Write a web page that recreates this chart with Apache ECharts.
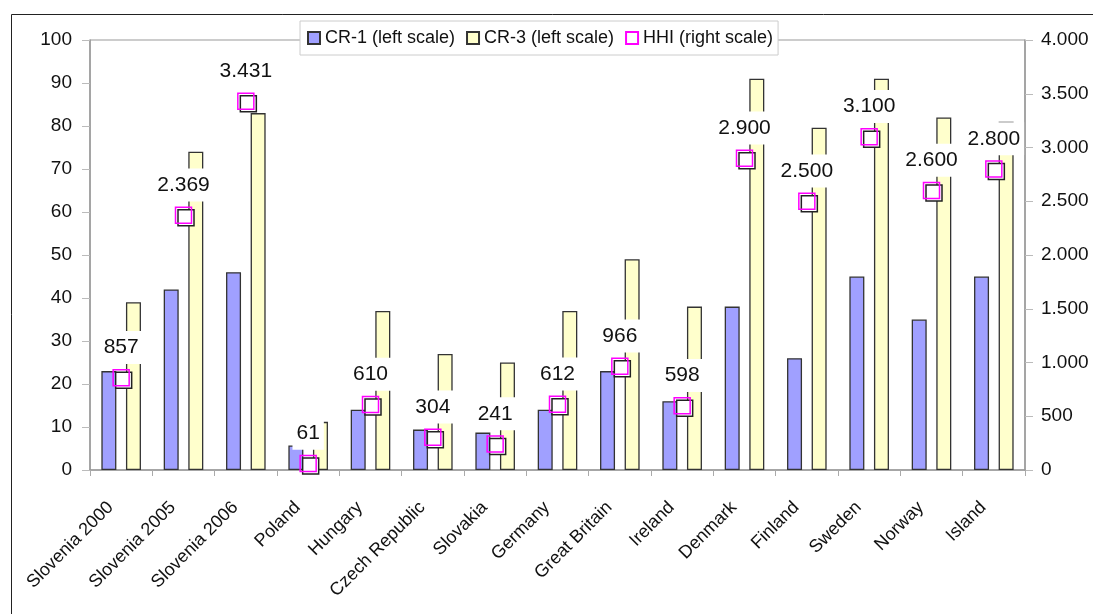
<!DOCTYPE html>
<html>
<head>
<meta charset="utf-8">
<script src="https://cdn.jsdelivr.net/npm/echarts@6/dist/echarts.min.js"></script>
<style>
html,body{margin:0;padding:0;background:#fff;}
#chart{width:1093px;height:614px;}
</style>
</head>
<body>
<div id="chart"></div>
<script>
const categories = ['Slovenia 2000','Slovenia 2005','Slovenia 2006','Poland','Hungary','Czech Republic','Slovakia','Germany','Great Britain','Ireland','Denmark','Finland','Sweden','Norway','Island'];
const cr1 = [23, 42, 46, 5.7, 14, 9.4, 8.7, 14, 23, 16, 38, 26, 45, 35, 45];
const cr3 = [39, 74, 83, 11.2, 37, 27, 25, 37, 49, 38, 91, 79.6, 91, 82, 81];
const hhi = [857, 2369, 3431, 61, 610, 304, 241, 612, 966, 598, 2900, 2500, 3100, 2600, 2800];
const leftTicks = {min: 0, max: 100, interval: 10};
const rightTicks = {min: 0, max: 4000, interval: 500};

function fmtThousands(v) {
  return String(Math.round(v)).replace(/\B(?=(\d{3})+(?!\d))/g, '.');
}

const FONT = "'Liberation Sans', Arial, sans-serif";
const chart = echarts.init(document.getElementById('chart'));
chart.setOption({
  animation: false,
  backgroundColor: '#fff',
  textStyle: {fontFamily: FONT},
  graphic: [{
    type: 'rect', silent: true, z: -10,
    shape: {x: 11.5, y: 14.5, width: 1200, height: 800},
    style: {fill: 'none', stroke: '#222', lineWidth: 1}
  }],
  legend: {
    left: 300, top: 21,
    padding: [8, 5, 8, 7],
    itemWidth: 12, itemHeight: 12, itemGap: 11,
    backgroundColor: '#fff', borderColor: '#ccc', borderWidth: 1,
    textStyle: {fontSize: 18, color: '#111', fontFamily: FONT},
    data: [
      {name: 'CR-1 (left scale)', icon: 'rect'},
      {name: 'CR-3 (left scale)', icon: 'rect'},
      {name: 'HHI (right scale)', icon: 'rect'}
    ]
  },
  grid: {left: 90, right: 68, top: 40, bottom: 144, show: true, borderColor: '#999', borderWidth: 1},
  xAxis: {
    type: 'category', data: categories, boundaryGap: true,
    axisLine: {lineStyle: {color: '#999', width: 1.5}},
    axisTick: {show: true, length: 6, lineStyle: {color: '#aaa'}},
    axisLabel: {rotate: 45, margin: 24, padding: [0, 15, 0, 0], fontSize: 18, color: '#111', fontFamily: FONT, interval: 0}
  },
  yAxis: [{
    type: 'value', min: leftTicks.min, max: leftTicks.max, interval: leftTicks.interval,
    axisLine: {show: true, lineStyle: {color: '#999', width: 1.5}},
    axisTick: {show: true, length: 8, lineStyle: {color: '#bbb'}},
    splitLine: {show: false},
    axisLabel: {margin: 18, fontSize: 19, color: '#111', fontFamily: FONT}
  }, {
    type: 'value', position: 'right', min: rightTicks.min, max: rightTicks.max, interval: rightTicks.interval,
    axisLine: {show: true, lineStyle: {color: '#999', width: 1.5}},
    axisTick: {show: true, length: 8, lineStyle: {color: '#bbb'}},
    splitLine: {show: false},
    axisLabel: {margin: 16, fontSize: 19, color: '#111', fontFamily: FONT, formatter: fmtThousands}
  }],
  series: [{
    name: 'CR-1 (left scale)', type: 'bar', data: cr1, barWidth: 15, barGap: '64%',
    itemStyle: {color: '#a0a0ff', borderColor: '#333', borderWidth: 1.3}
  }, {
    name: 'CR-3 (left scale)', type: 'bar', data: cr3, barWidth: 15, barGap: '64%',
    itemStyle: {color: '#ffffcc', borderColor: '#333', borderWidth: 1.3}
  }, {
    name: 'HHI shadow', type: 'scatter', yAxisIndex: 1, data: hhi, symbol: 'rect', symbolSize: 16,
    symbolOffset: [2.5, 2.5], z: 3,
    itemStyle: {color: '#fff', borderColor: '#222', borderWidth: 1.5, opacity: 1}
  }, {
    name: 'HHI (right scale)', type: 'scatter', yAxisIndex: 1, data: hhi, symbol: 'rect', symbolSize: 16, z: 4,
    itemStyle: {color: 'rgba(255,255,255,0)', borderColor: '#ff00ff', borderWidth: 1.5, opacity: 1},
    label: {
      show: true, position: 'top', distance: 5,
      formatter: p => fmtThousands(p.value),
      fontSize: 21, color: '#111', fontFamily: FONT, opacity: 1,
      textBorderWidth: 0,
      backgroundColor: '#fff', padding: [6, 4]
    }
  }]
});
</script>
</body>
</html>
